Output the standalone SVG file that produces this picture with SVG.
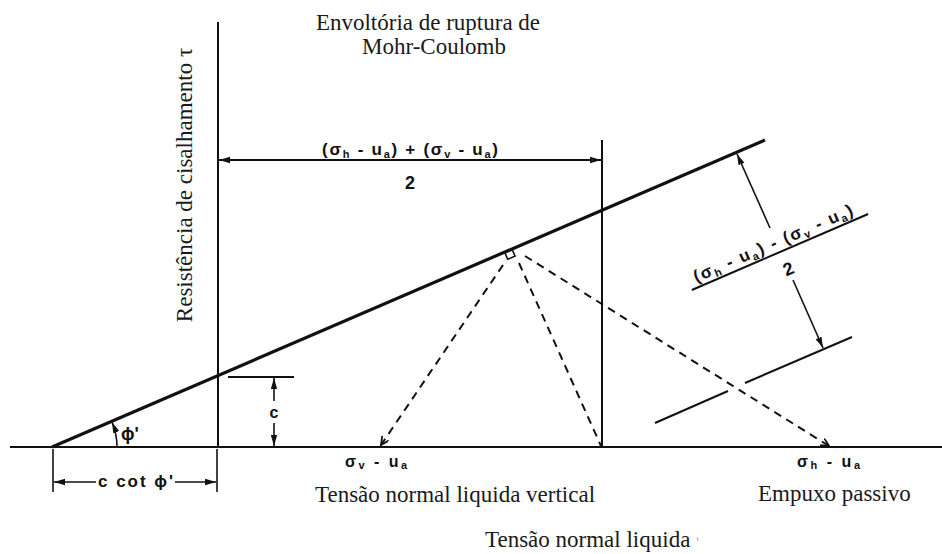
<svg xmlns="http://www.w3.org/2000/svg" width="942" height="554" viewBox="0 0 942 554">
<style>
.ln{stroke:#111;stroke-width:2;fill:none}
.thin{stroke:#111;stroke-width:1.6;fill:none}
.env{stroke:#111;stroke-width:3.2;fill:none}
.dash{stroke:#111;stroke-width:2;fill:none;stroke-dasharray:8 6}
.serif{font-family:"Liberation Serif","Times New Roman",serif;font-size:23px;fill:#1a1a1a}
.f{font-family:"Liberation Sans",Arial,sans-serif;font-weight:bold;fill:#111}
</style>
<defs>
<marker id="arr" markerUnits="userSpaceOnUse" markerWidth="12" markerHeight="8" refX="11" refY="4" orient="auto-start-reverse">
<path d="M0,0.8 L11,4 L0,7.2 z" fill="#111"/>
</marker>
<marker id="vee" markerUnits="userSpaceOnUse" markerWidth="10" markerHeight="10" refX="8" refY="4" orient="auto">
<path d="M0,0 L8,4 L0,8" fill="none" stroke="#111" stroke-width="1.8"/>
</marker>
</defs>

<g id="axes">
<line class="ln" x1="10" y1="447" x2="942" y2="447"/>
<line class="ln" x1="218" y1="22" x2="218" y2="447"/>
<line class="ln" x1="602" y1="140" x2="602" y2="447"/>
</g>

<g id="envelope">
<line class="env" x1="52" y1="447" x2="765" y2="140"/>
<rect x="506" y="251" width="8" height="7" class="thin" transform="rotate(-23.3 510 254.5)"/>
</g>

<g id="connectors">
<line class="dash" x1="503" y1="265" x2="381" y2="445" marker-end="url(#vee)"/>
<line class="dash" x1="519" y1="263" x2="601" y2="446"/>
<line class="dash" x1="525" y1="256" x2="829" y2="446" marker-end="url(#vee)"/>
<line class="ln" x1="219" y1="160" x2="601" y2="160" marker-start="url(#arr)" marker-end="url(#arr)"/>
<line class="ln" x1="228" y1="377" x2="294" y2="377"/>
<line class="thin" x1="274" y1="401" x2="274" y2="378" marker-end="url(#arr)"/>
<line class="thin" x1="274" y1="423" x2="274" y2="446" marker-end="url(#arr)"/>
<path class="thin" d="M117,447 A65,65 0 0 0 112,422" marker-end="url(#arr)"/>
<line class="thin" x1="53" y1="449" x2="53" y2="492"/>
<line class="thin" x1="217" y1="449" x2="217" y2="492"/>
<line class="thin" x1="96" y1="482" x2="54" y2="482" marker-end="url(#arr)"/>
<line class="thin" x1="175" y1="482" x2="216" y2="482" marker-end="url(#arr)"/>
<line class="ln" x1="655" y1="423" x2="728" y2="391"/>
<line class="ln" x1="745" y1="383" x2="852" y2="337"/>
<line class="thin" x1="770" y1="228" x2="737" y2="154" marker-end="url(#arr)"/>
<line class="thin" x1="793" y1="280" x2="823" y2="348" marker-end="url(#arr)"/>
<line x1="697" y1="537" x2="698" y2="541" stroke="#aaa" stroke-width="1"/>
</g>

<g id="labels">
<text class="serif" x="428" y="30" text-anchor="middle">Envoltória de ruptura de</text>
<text class="serif" x="434" y="54" text-anchor="middle">Mohr-Coulomb</text>
<text class="serif" x="192" y="185" text-anchor="middle" font-size="23.5" transform="rotate(-90 192 185)">Resistência de cisalhamento τ</text>

<text class="f" x="322" y="155" font-size="17" textLength="176">(σ<tspan font-size="11" dy="3">h</tspan><tspan dy="-3"> - u</tspan><tspan font-size="11" dy="3">a</tspan><tspan dy="-3">) + (σ</tspan><tspan font-size="11" dy="3">v</tspan><tspan dy="-3"> - u</tspan><tspan font-size="11" dy="3">a</tspan><tspan dy="-3">)</tspan></text>
<text class="f" x="410" y="189" text-anchor="middle" font-size="18">2</text>

<g transform="translate(780 252) rotate(-23.3)">
<line class="ln" x1="-96" y1="0" x2="96" y2="0"/>
<text class="f" x="-89" y="-5" font-size="17" textLength="172">(σ<tspan font-size="11" dy="3">h</tspan><tspan dy="-3"> - u</tspan><tspan font-size="11" dy="3">a</tspan><tspan dy="-3">) - (σ</tspan><tspan font-size="11" dy="3">v</tspan><tspan dy="-3"> - u</tspan><tspan font-size="11" dy="3">a</tspan><tspan dy="-3">)</tspan></text>
<text class="f" x="1" y="25" text-anchor="middle" font-size="18">2</text>
</g>

<text class="f" x="274" y="418" text-anchor="middle" font-size="16">c</text>
<text class="f" x="121" y="440" font-size="18">ϕ'</text>
<text class="f" x="98" y="487" font-size="17" textLength="75">c cot ϕ'</text>

<text class="f" x="345" y="467" font-size="16" textLength="62">σ<tspan font-size="11" dy="2">v</tspan><tspan dy="-2"> - u</tspan><tspan font-size="11" dy="2">a</tspan></text>
<text class="f" x="797" y="467" font-size="16" textLength="63">σ<tspan font-size="11" dy="2">h</tspan><tspan dy="-2"> - u</tspan><tspan font-size="11" dy="2">a</tspan></text>

<text class="serif" x="315" y="502">Tensão normal liquida vertical</text>
<text class="serif" x="758" y="501">Empuxo passivo</text>
<text class="serif" x="485" y="547">Tensão normal liquida</text>
</g>
</svg>
